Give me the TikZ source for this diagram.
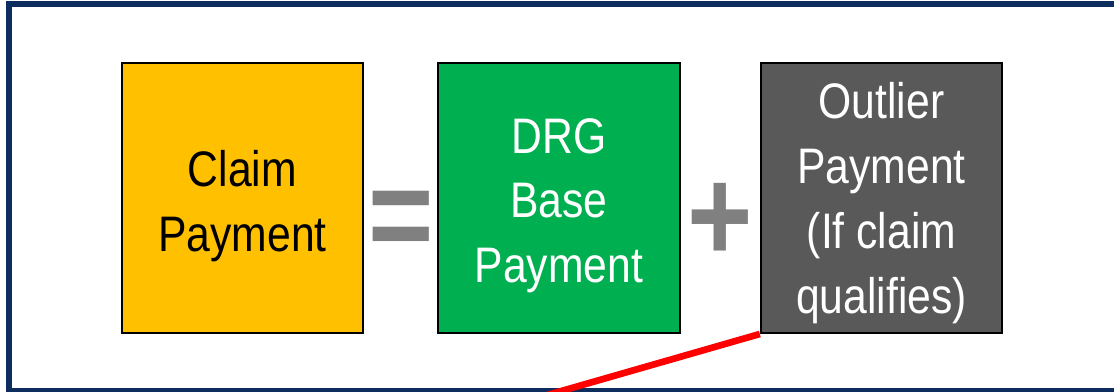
\documentclass[tikz,border=0pt]{standalone}
\usepackage{fontspec}
\setmainfont{Liberation Sans}
\usetikzlibrary{calc}
\definecolor{framenavy}{RGB}{12,45,94}
\definecolor{claimgold}{RGB}{255,192,0}
\definecolor{drggreen}{RGB}{0,176,80}
\definecolor{outlgray}{RGB}{89,89,89}
\definecolor{opgray}{RGB}{128,128,128}
% lines of box text, set a little taller than wide
\newcommand{\boxlines}[1]{\scalebox{1}[1.17]{\fontsize{32}{41.5}\selectfont
  \begin{tabular}{@{}c@{}}#1\end{tabular}}}
\newcommand{\opglyph}[1]{\scalebox{1}[1.19]{\fontsize{84}{84}\bfseries\selectfont #1}}
\tikzset{
  paybox/.style={draw=black, line width=1.5pt, minimum width=181pt, minimum height=202.5pt,
    inner sep=0pt},
  paytext/.style={inner sep=0pt},
  opsign/.style={text=opgray, inner sep=0pt},
}
\begin{document}
\begin{tikzpicture}[x=0.75pt,y=-0.75pt]
  \useasboundingbox (0,0) rectangle (1114,392);
  \clip (0,0) rectangle (1114,392);
  \fill[white] (0,0) rectangle (1114,392);
  % outer frame, running off the right and bottom edges
  \draw[framenavy, line width=4.5pt] (9,4.5) rectangle (1140,391);
  % the three payment boxes
  \node[paybox, fill=claimgold] (claim) at (242.5,198) {};
  \node[paybox, fill=drggreen] (drg) at (559,198) {};
  \node[paybox, fill=outlgray] (outlier) at (881.5,198) {};
  \node[paytext, text=black] (claimtext) at ($(claim.center)+(0,8)$) {\boxlines{Claim\\Payment}};
  \node[paytext, text=white] (drgtext) at ($(drg.center)+(0,7)$) {\boxlines{DRG\\Base\\Payment}};
  \node[paytext, text=white] (outliertext) at ($(outlier.center)+(0,5)$) {\boxlines{Outlier\\Payment\\(If claim\\qualifies)}};
  % operators between the boxes
  \node[opsign] (eq) at ($(claim.east)!0.5!(drg.west)+(0,28)$) {\opglyph{=}};
  \node[opsign] (plus) at ($(drg.east)!0.5!(outlier.west)+(0,24)$) {\opglyph{+}};
  % red pointer line leaving the outlier box
  \coordinate (redend) at (530,400);
  \draw[red, line width=5pt] (outlier.south west) -- (redend);
\end{tikzpicture}
\end{document}
